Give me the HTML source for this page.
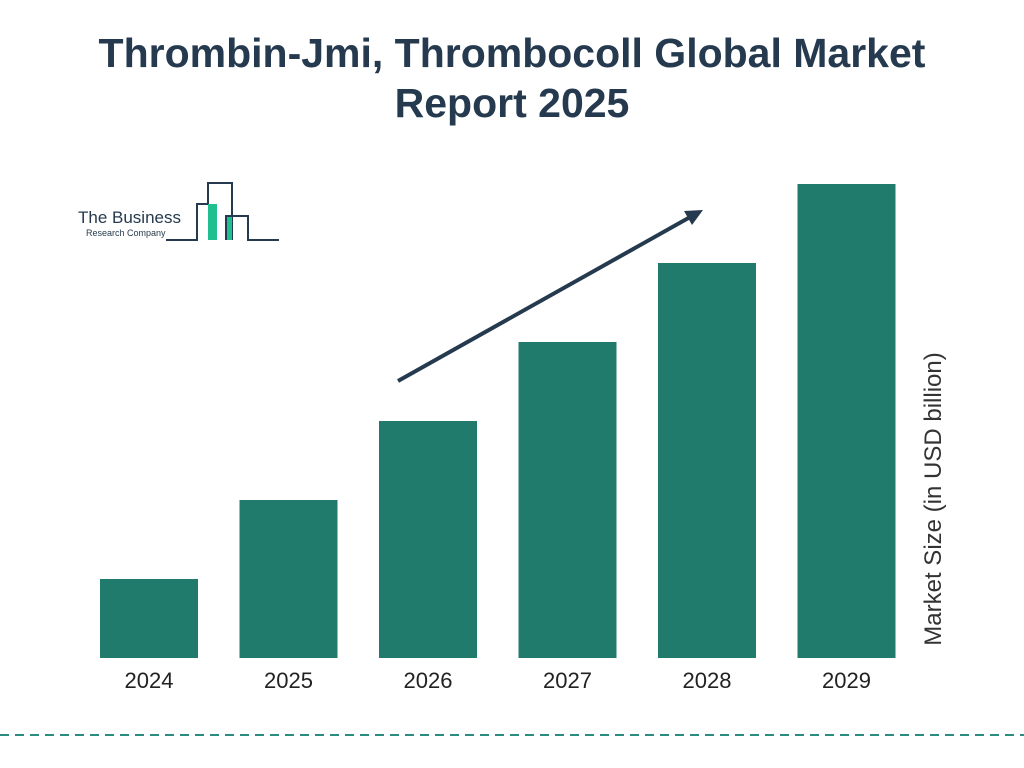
<!DOCTYPE html>
<html><head><meta charset="utf-8"><style>
body{margin:0;width:1024px;height:768px;background:#fff;overflow:hidden;font-family:"Liberation Sans",sans-serif}
#title{position:absolute;top:28px;left:0;width:1024px;text-align:center;font-weight:bold;font-size:41px;line-height:50px;color:#253a4e}
</style></head><body>
<div id="title">Thrombin-Jmi, Thrombocoll Global Market<br>Report 2025</div>
<svg id="chart" width="1024" height="768" style="position:absolute;top:0;left:0">
<g>
<text x="78" y="223" font-size="17" fill="#253a4e" font-family="Liberation Sans">The Business</text>
<text x="86" y="236" font-size="9" fill="#253a4e" font-family="Liberation Sans">Research Company</text>
<polyline points="166,240 197,240 197,204 208,204 208,183 232,183 232,240" fill="none" stroke="#253a4e" stroke-width="2"/>
<polyline points="226,240 226,216 248,216 248,240 279,240" fill="none" stroke="#253a4e" stroke-width="2"/>
<rect x="208" y="204" width="9" height="36" fill="#1fbf8f"/>
<rect x="227" y="217" width="5" height="23" fill="#1fbf8f"/>
</g>
<line x1="398" y1="381" x2="692" y2="216" stroke="#253a4e" stroke-width="4"/>
<polygon points="703,210 684,211 692,225" fill="#253a4e"/>
<g id="bars"></g>
<text transform="translate(941,499) rotate(-90)" text-anchor="middle" font-size="24" fill="#333" font-family="Liberation Sans">Market Size (in USD billion)</text>
<line x1="0" y1="735" x2="1024" y2="735" stroke="#2a8c80" stroke-width="2" stroke-dasharray="9,6"/>
</svg>
<script>
const categories=["2024","2025","2026","2027","2028","2029"];
const values=[1,2,3,4,5,6];
const maxV=6, baseY=658, plotH=474, x0=100, step=139.5, bw=98;
function yScale(v){return baseY-v/maxV*plotH;}
function xScale(i){return x0+i*step;}
const g=document.getElementById('bars');
const ns="http://www.w3.org/2000/svg";
categories.forEach((c,i)=>{
 const r=document.createElementNS(ns,'rect');
 r.setAttribute('x',xScale(i));r.setAttribute('y',yScale(values[i]));
 r.setAttribute('width',bw);r.setAttribute('height',baseY-yScale(values[i]));
 r.setAttribute('fill','#217b6c');
 
 
 g.appendChild(r);
 const t=document.createElementNS(ns,'text');
 t.setAttribute('x',xScale(i)+bw/2);t.setAttribute('y',688);
 t.setAttribute('text-anchor','middle');t.setAttribute('font-size','22');
 t.setAttribute('fill','#222');t.setAttribute('font-family','Liberation Sans');
 t.textContent=c;
 
 
 g.appendChild(t);
});
</script>
</body></html>
